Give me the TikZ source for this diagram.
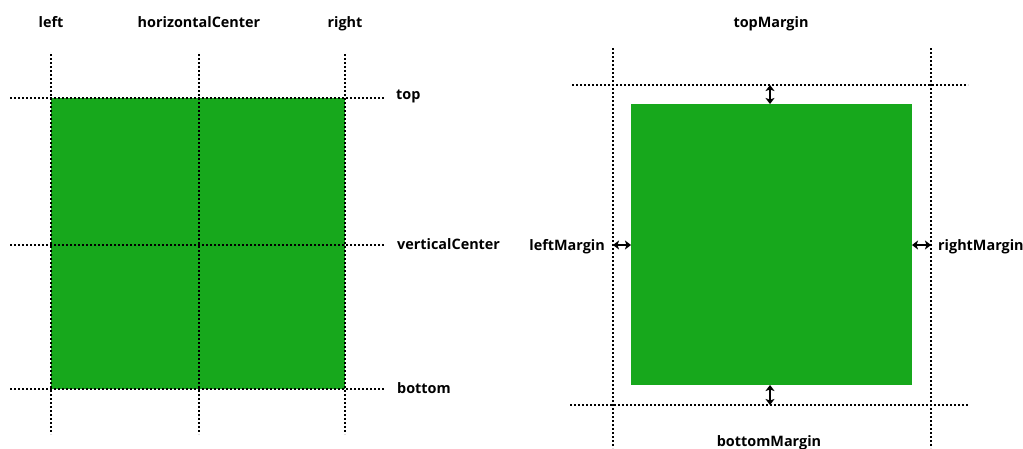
\documentclass[tikz,border=0pt]{standalone}
\usepackage{fontspec}
\setmainfont{Open Sans}
\usetikzlibrary{arrows.meta}
\definecolor{boxgreen}{RGB}{23,168,28}
\begin{document}
\begin{tikzpicture}[x=1pt,y=-1pt,
  guide/.style={line width=2pt,dash pattern=on 2pt off 2pt,black},
  gbox/.style={fill=boxgreen,draw=none,inner sep=0pt,outer sep=0pt},
  lbl/.style={font=\fontsize{14.4}{16}\selectfont\bfseries,inner sep=0pt},
  marrow/.style={line width=2.4pt,{Stealth[length=6pt,width=9pt,inset=1.5pt]}-{Stealth[length=6pt,width=9pt,inset=1.5pt]}}]
\useasboundingbox (0,0) rectangle (1023,448);
% ---------- left diagram ----------
\node[gbox,minimum width=294pt,minimum height=291pt,anchor=north west] (lbox) at (51,98) {};
\draw[guide] (51,54) -- (51,434);
\draw[guide] (199,54) -- (199,434);
\draw[guide] (345,54) -- (345,434);
\draw[guide] (10,98) -- (385,98);
\draw[guide] (10,245) -- (385,245);
\draw[guide] (10,389) -- (385,389);
\node[lbl,anchor=base] (tleft) at (51,27) {left};
\node[lbl,anchor=base] (thc) at (199,27) {horizontalCenter};
\node[lbl,anchor=base] (tright) at (345,27) {right};
\node[lbl,anchor=base west] (ttop) at (396,99) {top};
\node[lbl,anchor=base west] (tvc) at (397,249) {verticalCenter};
\node[lbl,anchor=base west] (tbottom) at (397,393) {bottom};
% ---------- right diagram ----------
\node[gbox,minimum width=281pt,minimum height=281pt,anchor=north west] (rbox) at (631,104) {};
\draw[guide] (613,48) -- (613,448);
\draw[guide] (931,48) -- (931,448);
\draw[guide] (572,85) -- (968,85);
\draw[guide] (570,405) -- (968,405);
\coordinate (mt) at (770,85);
\coordinate (mb) at (770,405);
\coordinate (ml) at (613,245);
\coordinate (mr) at (931,245);
\draw[marrow] (mt) -- (rbox.north -| mt);
\draw[marrow] (rbox.south -| mb) -- (mb);
\draw[marrow] (ml) -- (rbox.west |- ml);
\draw[marrow] (rbox.east |- mr) -- (mr);
\node[lbl,anchor=base] (ttm) at (771,27) {topMargin};
\node[lbl,anchor=base east] (tlm) at (605,250) {leftMargin};
\node[lbl,anchor=base west] (trm) at (938,250) {rightMargin};
\node[lbl,anchor=base] (tbm) at (769,446) {bottomMargin};
\end{tikzpicture}
\end{document}
